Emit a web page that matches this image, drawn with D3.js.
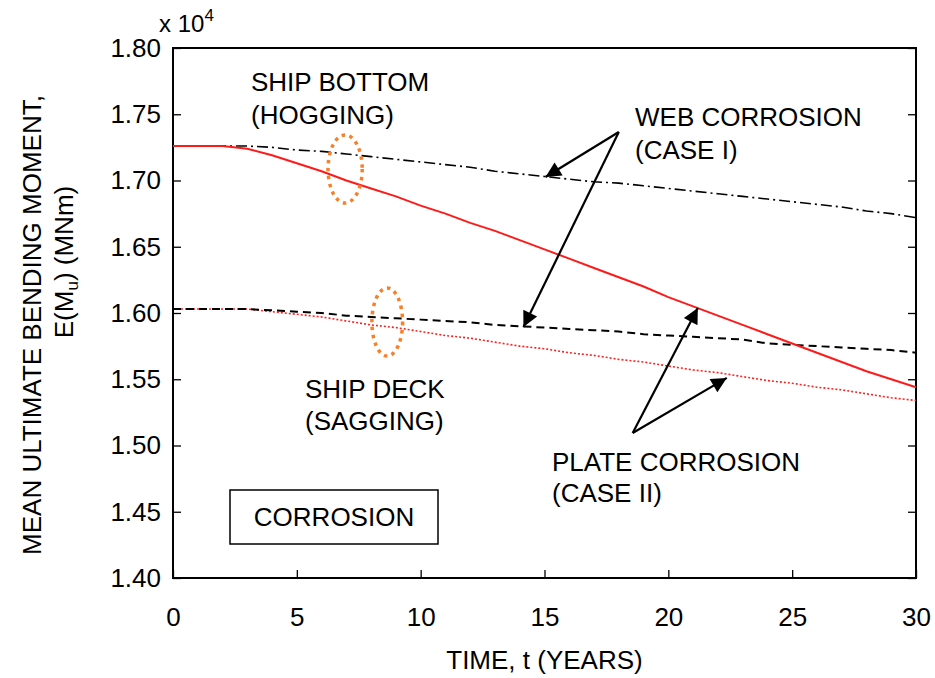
<!DOCTYPE html>
<html>
<head>
<meta charset="utf-8">
<script src="https://cdn.jsdelivr.net/npm/d3@7"></script>
<style>
  html, body { margin: 0; padding: 0; background: #fff; }
  svg text { font-family: "Liberation Sans", Arial, sans-serif; fill: #000; }
</style>
</head>
<body>
<svg id="chart" width="935" height="678"></svg>
<script>
// ---- data ----
const years = [0,1,2,3,4,5,6,7,8,9,10,11,12,13,14,15,16,17,18,19,20,21,22,23,24,25,26,27,28,29,30];
const hogWeb   = [1.726,1.726,1.726,1.726,1.725,1.723,1.722,1.720,1.718,1.716,1.714,1.712,1.710,1.707,1.705,1.703,1.701,1.699,1.698,1.696,1.694,1.692,1.690,1.688,1.686,1.684,1.682,1.680,1.677,1.675,1.672];
const hogPlate = [1.726,1.726,1.726,1.724,1.719,1.713,1.707,1.700,1.694,1.688,1.681,1.675,1.668,1.662,1.655,1.648,1.641,1.634,1.627,1.620,1.612,1.605,1.598,1.591,1.584,1.577,1.570,1.563,1.556,1.550,1.544];
const sagWeb   = [1.603,1.603,1.603,1.603,1.602,1.601,1.600,1.598,1.597,1.596,1.595,1.594,1.593,1.591,1.590,1.589,1.588,1.587,1.586,1.584,1.583,1.582,1.581,1.580,1.577,1.576,1.575,1.574,1.573,1.572,1.570];
const sagPlate = [1.603,1.603,1.603,1.603,1.601,1.599,1.597,1.594,1.591,1.589,1.586,1.583,1.581,1.578,1.575,1.573,1.570,1.568,1.565,1.563,1.560,1.557,1.555,1.552,1.549,1.547,1.544,1.542,1.539,1.536,1.534];

const xTicks = [0,5,10,15,20,25,30];
const yTicks = [1.40,1.45,1.50,1.55,1.60,1.65,1.70,1.75,1.80];

// annotations in data units
const ellipses = [
  {t: 6.95, v: 1.7087, rt: 0.69, rv: 0.0257},
  {t: 8.65, v: 1.5932, rt: 0.62, rv: 0.0257}
];
const webArrows   = {from: [18.0, 1.7366], to: [[15.04, 1.7026], [14.15, 1.5894]]};
const plateArrows = {from: [18.56, 1.5094], to: [[21.19, 1.6038], [22.36, 1.551]]};

// ---- layout ----
const L = 173, R = 916, T = 48, B = 578;
const svg = d3.select("#chart");
const x = d3.scaleLinear().domain([0, 30]).range([L, R]);
const y = d3.scaleLinear().domain([1.40, 1.80]).range([B, T]);
const FS = 26;

// ticks
const tickLen = 8;
svg.append("g").attr("transform", `translate(0,${B})`)
  .call(d3.axisBottom(x).tickValues(xTicks).tickSizeInner(-tickLen).tickSizeOuter(0).tickPadding(30).tickFormat(d3.format("d")))
  .call(g => g.select(".domain").remove())
  .call(g => g.selectAll("line").attr("stroke", "#000").attr("stroke-width", 1.3))
  .call(g => g.selectAll("text").attr("font-size", FS).attr("font-family", "Liberation Sans, Arial, sans-serif").attr("fill", "#000"));

svg.append("g").attr("transform", `translate(${L},0)`)
  .call(d3.axisLeft(y).tickValues(yTicks).tickSizeInner(-tickLen).tickSizeOuter(0).tickPadding(12).tickFormat(d3.format(".2f")))
  .call(g => g.select(".domain").remove())
  .call(g => g.selectAll("line").attr("stroke", "#000").attr("stroke-width", 1.3))
  .call(g => g.selectAll("text").attr("font-size", FS).attr("font-family", "Liberation Sans, Arial, sans-serif").attr("fill", "#000"));

svg.append("g").attr("transform", `translate(${R},0)`)
  .call(d3.axisRight(y).tickValues(yTicks).tickSizeInner(-tickLen).tickSizeOuter(0).tickFormat(""))
  .call(g => g.select(".domain").remove())
  .call(g => g.selectAll("line").attr("stroke", "#000").attr("stroke-width", 1.3));

// frame
svg.append("rect").attr("x", L).attr("y", T).attr("width", R - L).attr("height", B - T)
  .attr("fill", "none").attr("stroke", "#000").attr("stroke-width", 2);

// lines
const line = d3.line().x((d, i) => x(years[i])).y(d => y(d));
const series = [
  {vals: sagPlate, color: "#ff2020", width: 1.6, dash: "2,2"},
  {vals: sagWeb,   color: "#000",    width: 2,   dash: "8,5"},
  {vals: hogWeb,   color: "#000",    width: 1.6, dash: "11,4,2,4"},
  {vals: hogPlate, color: "#ff1a1a", width: 2,   dash: null}
];
series.forEach(s => {
  svg.append("path").datum(s.vals).attr("d", line)
    .attr("fill", "none").attr("stroke", s.color).attr("stroke-width", s.width)
    .attr("stroke-dasharray", s.dash);
});

// ellipses
ellipses.forEach(e => {
  svg.append("ellipse")
    .attr("cx", x(e.t)).attr("cy", y(e.v))
    .attr("rx", x(e.rt) - x(0)).attr("ry", y(1.40) - y(1.40 + e.rv))
    .attr("fill", "none").attr("stroke", "#f7802a").attr("stroke-width", 3.5)
    .attr("stroke-dasharray", "3.5,4.5");
});

// arrows
svg.append("defs").append("marker")
  .attr("id", "ah").attr("viewBox", "0 0 10 10").attr("refX", 10).attr("refY", 5)
  .attr("markerWidth", 9).attr("markerHeight", 7).attr("markerUnits", "strokeWidth")
  .attr("orient", "auto")
  .append("path").attr("d", "M0,0 L10,5 L0,10 Z").attr("fill", "#000");

[webArrows, plateArrows].forEach(a => {
  a.to.forEach(tip => {
    svg.append("line")
      .attr("x1", x(a.from[0])).attr("y1", y(a.from[1]))
      .attr("x2", x(tip[0])).attr("y2", y(tip[1]))
      .attr("stroke", "#000").attr("stroke-width", 2.2)
      .attr("marker-end", "url(#ah)");
  });
});

// annotation text
const txt = (s, tx, ty, anchor) => svg.append("text").attr("x", tx).attr("y", ty)
  .attr("font-size", FS).attr("text-anchor", anchor || "start").text(s);
txt("SHIP BOTTOM", 251, 91);
txt("(HOGGING)", 251, 124);
txt("WEB CORROSION", 635, 126);
txt("(CASE I)", 635, 159);
txt("SHIP DECK", 305, 398);
txt("(SAGGING)", 305, 430);
txt("PLATE CORROSION", 552, 471);
txt("(CASE II)", 552, 502);

// corrosion box
svg.append("rect").attr("x", 230).attr("y", 490).attr("width", 208).attr("height", 54)
  .attr("fill", "#fff").attr("stroke", "#000").attr("stroke-width", 1.5);
txt("CORROSION", 334, 526, "middle");

// x 10^4
const mult = svg.append("text").attr("x", 159).attr("y", 32).attr("font-size", 24);
mult.append("tspan").text("x 10");
mult.append("tspan").attr("dy", -11).attr("font-size", 17).text("4");

// axis titles
svg.append("text").attr("x", (L + R) / 2).attr("y", 669).attr("text-anchor", "middle")
  .attr("font-size", FS).text("TIME, t (YEARS)");

svg.append("text").attr("transform", "translate(41,325) rotate(-90)").attr("text-anchor", "middle")
  .attr("font-size", FS).text("MEAN ULTIMATE BENDING MOMENT,");
const yt2 = svg.append("text").attr("transform", "translate(73,262) rotate(-90)").attr("text-anchor", "middle")
  .attr("font-size", FS);
yt2.append("tspan").text("E(M");
yt2.append("tspan").attr("font-size", 17).attr("dy", 5).text("u");
yt2.append("tspan").attr("dy", -5).text(") (MNm)");
</script>
</body>
</html>
